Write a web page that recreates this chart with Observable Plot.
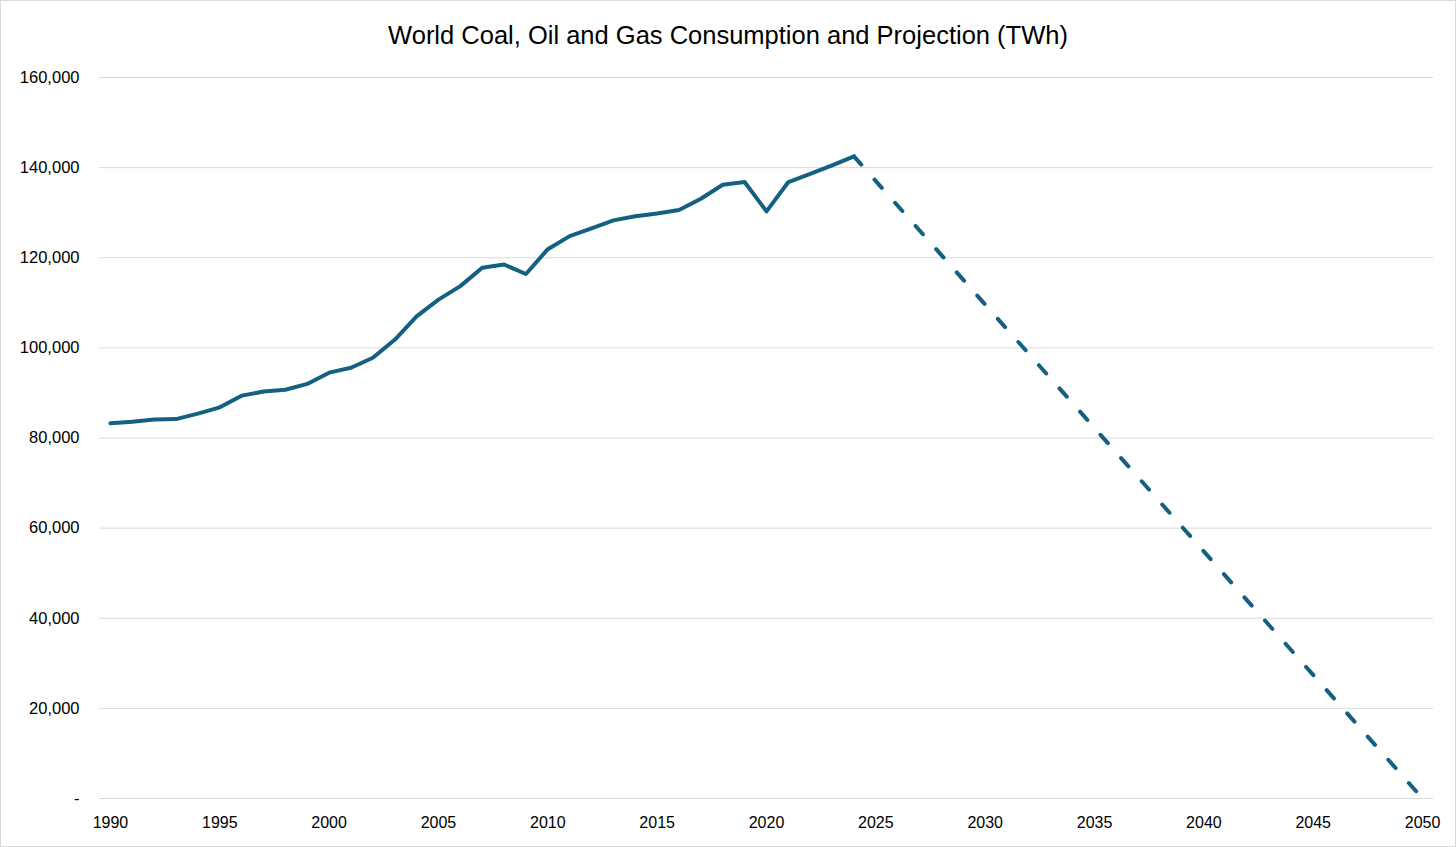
<!DOCTYPE html>
<html>
<head>
<meta charset="utf-8">
<script src="https://cdn.jsdelivr.net/npm/d3@7"></script>
<script src="https://cdn.jsdelivr.net/npm/@observablehq/plot@0.6"></script>
<style>
  html, body { margin: 0; padding: 0; background: #fff; }
  #chart {
    position: relative;
    width: 1456px;
    height: 847px;
    outline: 1px solid #d9d9d9;
    outline-offset: -1px;
    font-family: "Liberation Sans", Arial, sans-serif;
    overflow: hidden;
  }
  #title {
    height: 60px;
    padding-top: 20px;
    box-sizing: border-box;
    font-size: 25.5px;
    line-height: 30px;
    text-align: center;
    color: #000;
  }
</style>
</head>
<body>
<div id="chart">
  <div id="title">World Coal, Oil and Gas Consumption and Projection (TWh)</div>
</div>
<script>
// Historical consumption, 1990–2024 (TWh)
const historyYears = d3.range(1990, 2025);
const historyValues = [
  83300, 83600, 84100, 84200, 85400, 86800, 89400, 90300, 90700, 92000,
  94500, 95600, 97800, 101800, 107000, 110700, 113700, 117800, 118500, 116400,
  121900, 124800, 126500, 128300, 129200, 129800, 130600, 133100, 136200, 136800,
  130300, 136800, 138600, 140500, 142500
];

// Projection: straight decline from the 2024 level to zero in 2050
const projectionYears = [2024, 2050];
const projectionValues = [142500, 0];

// Axis ticks
const xTicks = [1990, 1995, 2000, 2005, 2010, 2015, 2020, 2025, 2030, 2035, 2040, 2045, 2050];
const yTicks = [0, 20000, 40000, 60000, 80000, 100000, 120000, 140000, 160000];

const history = historyYears.map((year, i) => ({year, value: historyValues[i]}));
const projection = projectionYears.map((year, i) => ({year, value: projectionValues[i]}));

const lineColor = "#156082";
const commaFmt = d3.format(",");

const plot = Plot.plot({
  width: 1456,
  height: 785,
  marginTop: 17,
  marginBottom: 47,
  marginLeft: 99,
  marginRight: 23,
  style: {fontFamily: "'Liberation Sans', Arial, sans-serif", fontSize: "16px", color: "#000", background: "transparent"},
  x: {domain: [1989.5, 2050.5], label: null},
  y: {domain: [0, 160000], label: null},
  marks: [
    Plot.gridY(yTicks, {stroke: "#d9d9d9", strokeOpacity: 1, strokeWidth: 1}),
    Plot.axisX(xTicks, {tickSize: 0, tickPadding: 18, tickFormat: d => String(d), fontSize: 16, fill: "#000"}),
    Plot.axisY(yTicks, {tickSize: 0, tickPadding: 20, tickFormat: d => d === 0 ? "-" : commaFmt(d), fontSize: 16.5, fill: "#000"}),
    Plot.line(projection, {
      x: "year", y: "value",
      stroke: lineColor, strokeWidth: 4,
      strokeDasharray: "11 20", strokeLinecap: "round", strokeLinejoin: "round"
    }),
    Plot.line(history, {
      x: "year", y: "value",
      stroke: lineColor, strokeWidth: 4,
      strokeLinecap: "round", strokeLinejoin: "round"
    })
  ]
});

document.getElementById("chart").appendChild(plot);
</script>
</body>
</html>
